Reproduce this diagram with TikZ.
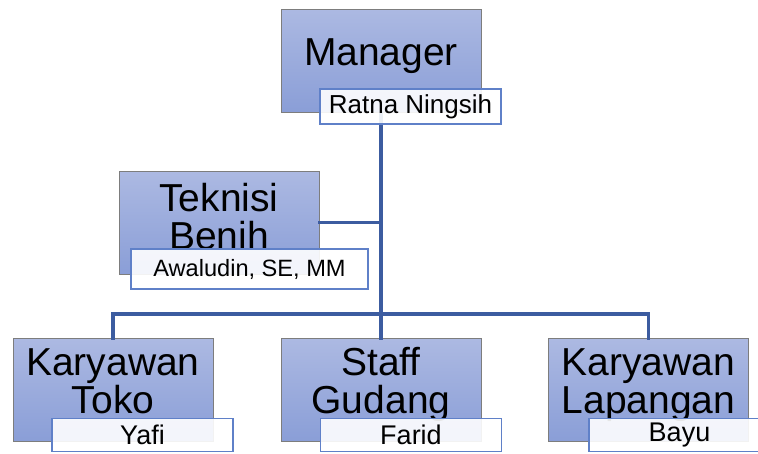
\documentclass[tikz,border=0pt]{standalone}
\usepackage{fontspec}
\setmainfont{Liberation Sans}
\definecolor{boxtop}{RGB}{172,185,226}
\definecolor{boxbot}{RGB}{138,158,215}
\definecolor{boxgray}{RGB}{125,125,125}
\definecolor{nameblue}{RGB}{95,128,200}
\definecolor{linkblue}{RGB}{60,92,160}
\begin{document}
\begin{tikzpicture}[x=1pt,y=-1pt,
  box/.style={rectangle, draw=boxgray, line width=0.9pt, top color=boxtop, bottom color=boxbot,
    minimum width=200pt, minimum height=103pt, inner sep=0pt},
  namebox/.style={rectangle, draw=nameblue, line width=1.1pt, fill=white, fill opacity=0.9, text opacity=1,
    minimum width=181pt, minimum height=33pt, inner sep=0pt, font=\fontsize{27}{30}\selectfont},
  title/.style={anchor=north, inner sep=0pt, align=center, font=\fontsize{39}{38}\selectfont},
  link/.style={draw=linkblue, line width=3.2pt, line cap=rect}]
\useasboundingbox (0,0) rectangle (758,453);
\clip (0,0) rectangle (758,453);
% main boxes
\node[box] (mgr) at (381,60.5) {};
\node[box] (tek) at (219,222.5) {};
\node[box] (toko) at (113,390) {};
\node[box] (staff) at (381,390) {};
\node[box] (lap) at (648.5,390) {};
% titles
\node[title] (mgrt) at (381,38) {Manager};
\node[title] (tekt) at (219,183) {Teknisi\\Benih};
\node[title] (tokot) at (113,348) {Karyawan\\Toko};
\node[title] (stafft) at (381,347) {Staff\\Gudang};
\node[title] (lapt) at (648.5,348) {Karyawan\\Lapangan};
% connectors
\coordinate (bus) at (381,314);
\path[link] (mgr.south) -- (bus);
\path[link] (tek.east) -- (tek.east -| mgr.south);
\path[link] (toko.north) |- (bus) -| (lap.north);
\path[link] (bus) -- (staff.north);
% name boxes
\node[namebox, minimum height=35pt, font=\fontsize{26}{29}\selectfont] (mgrn) at (410.5,106.5) {Ratna Ningsih};
\node[namebox, minimum width=237pt, minimum height=40pt, font=\fontsize{23.6}{27}\selectfont] (tekn) at (249.5,269) {Awaludin, SE, MM};
\node[namebox] (tokon) at (142.5,435) {Yafi};
\node[namebox] (staffn) at (411,435) {Farid};
\node[namebox] (lapn) at (679.5,435) {Bayu};
\end{tikzpicture}
\end{document}
